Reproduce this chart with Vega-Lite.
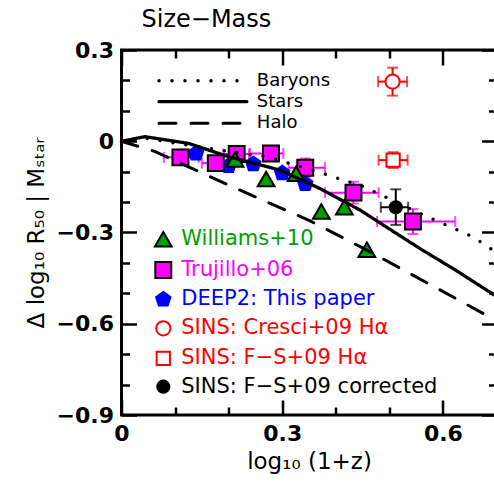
{
  "$schema": "https://vega.github.io/schema/vega-lite/v6.json",
  "width": 375,
  "height": 365,
  "autosize": {"type": "none"},
  "padding": {"left": 121.5, "top": 50, "right": 0, "bottom": 74},
  "background": "white",
  "title": {"text": "Size\u2212Mass", "anchor": "start", "frame": "group", "dx": 20, "offset": 7, "font": "DejaVu Sans", "fontSize": 24, "fontWeight": "normal", "color": "black"},
  "config": {
    "view": {"stroke": "black", "strokeWidth": 3},
    "axis": {"domain": false, "grid": false, "tickColor": "black", "tickWidth": 2.5, "labelFont": "DejaVu Sans", "labelFontSize": 22, "labelFontWeight": "bold", "labelColor": "black", "titleFont": "DejaVu Sans", "titleFontSize": 23, "titleFontWeight": "normal", "titleColor": "black", "labelFlush": false, "labelOverlap": false}
  },
  "datasets": {
    "obs": [
      {"series": "DEEP2: This paper", "x": 0.139, "y": -0.040},
      {"series": "DEEP2: This paper", "x": 0.200, "y": -0.081},
      {"series": "DEEP2: This paper", "x": 0.246, "y": -0.075},
      {"series": "DEEP2: This paper", "x": 0.300, "y": -0.105},
      {"series": "DEEP2: This paper", "x": 0.343, "y": -0.140},
      {"series": "Trujillo+06", "x": 0.110, "y": -0.053, "xlo": 0.079, "xhi": 0.144, "ylo": -0.078, "yhi": -0.028},
      {"series": "Trujillo+06", "x": 0.176, "y": -0.072, "xlo": 0.150, "xhi": 0.203, "ylo": -0.092, "yhi": -0.052},
      {"series": "Trujillo+06", "x": 0.215, "y": -0.042, "xlo": 0.190, "xhi": 0.238, "ylo": -0.062, "yhi": -0.022},
      {"series": "Trujillo+06", "x": 0.279, "y": -0.040, "xlo": 0.240, "xhi": 0.302, "ylo": -0.060, "yhi": -0.020},
      {"series": "Trujillo+06", "x": 0.343, "y": -0.087, "xlo": 0.312, "xhi": 0.380, "ylo": -0.117, "yhi": -0.057},
      {"series": "Trujillo+06", "x": 0.433, "y": -0.169, "xlo": 0.380, "xhi": 0.480, "ylo": -0.205, "yhi": -0.133},
      {"series": "Trujillo+06", "x": 0.544, "y": -0.264, "xlo": 0.477, "xhi": 0.623, "ylo": -0.305, "yhi": -0.223},
      {"series": "Williams+10", "x": 0.212, "y": -0.060},
      {"series": "Williams+10", "x": 0.270, "y": -0.124},
      {"series": "Williams+10", "x": 0.326, "y": -0.107},
      {"series": "Williams+10", "x": 0.373, "y": -0.231},
      {"series": "Williams+10", "x": 0.416, "y": -0.217},
      {"series": "Williams+10", "x": 0.458, "y": -0.357},
      {"series": "SINS: Cresci+09 H\u03b1", "x": 0.506, "y": 0.196, "xlo": 0.479, "xhi": 0.533, "ylo": 0.150, "yhi": 0.242},
      {"series": "SINS: F\u2212S+09 H\u03b1", "x": 0.507, "y": -0.062, "xlo": 0.480, "xhi": 0.534, "ylo": -0.088, "yhi": -0.036},
      {"series": "SINS: F\u2212S+09 corrected", "x": 0.512, "y": -0.217, "xlo": 0.484, "xhi": 0.535, "ylo": -0.275, "yhi": -0.158}
    ],
    "models": [
      {"model": "Baryons", "x": 0.0, "y": 0.0},
      {"model": "Baryons", "x": 0.044, "y": 0.010},
      {"model": "Baryons", "x": 0.122, "y": -0.012},
      {"model": "Baryons", "x": 0.184, "y": -0.029},
      {"model": "Baryons", "x": 0.271, "y": -0.051},
      {"model": "Baryons", "x": 0.346, "y": -0.089},
      {"model": "Baryons", "x": 0.451, "y": -0.149},
      {"model": "Baryons", "x": 0.557, "y": -0.237},
      {"model": "Baryons", "x": 0.619, "y": -0.286},
      {"model": "Baryons", "x": 0.656, "y": -0.314},
      {"model": "Baryons", "x": 0.7, "y": -0.366},
      {"model": "Stars", "x": 0.0, "y": 0.0},
      {"model": "Stars", "x": 0.044, "y": 0.015},
      {"model": "Stars", "x": 0.125, "y": -0.007},
      {"model": "Stars", "x": 0.2, "y": -0.051},
      {"model": "Stars", "x": 0.296, "y": -0.095},
      {"model": "Stars", "x": 0.37, "y": -0.155},
      {"model": "Stars", "x": 0.445, "y": -0.226},
      {"model": "Stars", "x": 0.513, "y": -0.303},
      {"model": "Stars", "x": 0.561, "y": -0.357},
      {"model": "Stars", "x": 0.623, "y": -0.423},
      {"model": "Stars", "x": 0.7, "y": -0.51},
      {"model": "Halo", "x": 0.0, "y": 0.0},
      {"model": "Halo", "x": 0.063, "y": -0.034},
      {"model": "Halo", "x": 0.206, "y": -0.149},
      {"model": "Halo", "x": 0.35, "y": -0.26},
      {"model": "Halo", "x": 0.457, "y": -0.357},
      {"model": "Halo", "x": 0.575, "y": -0.47},
      {"model": "Halo", "x": 0.7, "y": -0.59}
    ],
    "lineKey": [
      {"model": "Baryons", "x0": 0.070, "x1": 0.234, "y": 0.199},
      {"model": "Stars", "x0": 0.070, "x1": 0.234, "y": 0.130},
      {"model": "Halo", "x0": 0.070, "x1": 0.234, "y": 0.059}
    ],
    "symKey": [
      {"series": "Williams+10", "x": 0.078, "y": -0.322},
      {"series": "Trujillo+06", "x": 0.078, "y": -0.423},
      {"series": "DEEP2: This paper", "x": 0.078, "y": -0.520},
      {"series": "SINS: Cresci+09 H\u03b1", "x": 0.078, "y": -0.615},
      {"series": "SINS: F\u2212S+09 H\u03b1", "x": 0.078, "y": -0.714},
      {"series": "SINS: F\u2212S+09 corrected", "x": 0.078, "y": -0.807}
    ]
  },
  "resolve": {"axis": {"x": "independent", "y": "independent"}},
  "layer": [
    {
      "data": {"name": "obs"},
      "transform": [{"filter": "isValid(datum.xlo)"}],
      "mark": {"type": "rule", "strokeWidth": 2},
      "encoding": {
        "x": {"field": "xlo", "type": "quantitative", "scale": {"domain": [0, 0.7], "nice": false, "zero": false},
              "axis": {"orient": "bottom", "values": [0, 0.3, 0.6], "tickSize": -15, "labelPadding": 23, "labelExpr": "datum.value == 0 ? '0' : format(datum.value, '.1f')", "title": "log\u2081\u2080 (1+z)", "titlePadding": 6}},
        "x2": {"field": "xhi"},
        "y": {"field": "y", "type": "quantitative", "scale": {"domain": [-0.9, 0.3], "nice": false, "zero": false},
              "axis": {"orient": "left", "values": [0.3, 0, -0.3, -0.6, -0.9], "tickSize": -15, "labelPadding": 23, "labelExpr": "datum.value == 0 ? '0' : format(datum.value, '.1f')", "title": "\u0394 log\u2081\u2080 R\u2085\u2080 | M\u209b\u209c\u2090\u1d63", "titlePadding": 8}},
        "color": {"field": "series", "type": "nominal", "legend": null,
                  "scale": {"domain": ["Williams+10", "Trujillo+06", "DEEP2: This paper", "SINS: Cresci+09 H\u03b1", "SINS: F\u2212S+09 H\u03b1", "SINS: F\u2212S+09 corrected"], "range": ["#00a000", "#ff00ff", "#0000ff", "#ff0000", "#ff0000", "#000000"]}}
      }
    },
    {
      "data": {"name": "obs"},
      "transform": [{"filter": "isValid(datum.ylo)"}],
      "mark": {"type": "rule", "strokeWidth": 2},
      "encoding": {
        "x": {"field": "x", "type": "quantitative", "scale": {"domain": [0, 0.7], "nice": false, "zero": false},
              "axis": {"orient": "bottom", "values": [0.1, 0.2, 0.4, 0.5], "tickSize": -8, "labels": false, "title": null}},
        "y": {"field": "ylo", "type": "quantitative", "scale": {"domain": [-0.9, 0.3], "nice": false, "zero": false},
              "axis": {"orient": "left", "values": [0.2, 0.1, -0.1, -0.2, -0.4, -0.5, -0.7, -0.8], "tickSize": -8, "labels": false, "title": null}},
        "y2": {"field": "yhi"},
        "color": {"field": "series", "type": "nominal", "legend": null}
      }
    },
    {
      "data": {"name": "obs"},
      "transform": [{"filter": "isValid(datum.xlo)"}, {"fold": ["xlo", "xhi"], "as": ["end", "xv"]}],
      "mark": {"type": "tick", "orient": "vertical", "size": 11, "thickness": 2},
      "encoding": {
        "x": {"field": "xv", "type": "quantitative", "scale": {"domain": [0, 0.7], "nice": false, "zero": false},
              "axis": {"orient": "top", "values": [0, 0.3, 0.6], "tickSize": -15, "labels": false, "title": null}},
        "y": {"field": "y", "type": "quantitative", "scale": {"domain": [-0.9, 0.3], "nice": false, "zero": false},
              "axis": {"orient": "right", "values": [0.3, 0, -0.3, -0.6, -0.9], "tickSize": -15, "labels": false, "title": null}},
        "color": {"field": "series", "type": "nominal", "legend": null}
      }
    },
    {
      "data": {"name": "obs"},
      "transform": [{"filter": "isValid(datum.ylo)"}, {"fold": ["ylo", "yhi"], "as": ["end", "yv"]}],
      "mark": {"type": "tick", "orient": "horizontal", "size": 11, "thickness": 2},
      "encoding": {
        "x": {"field": "x", "type": "quantitative", "scale": {"domain": [0, 0.7], "nice": false, "zero": false},
              "axis": {"orient": "top", "values": [0.1, 0.2, 0.4, 0.5], "tickSize": -8, "labels": false, "title": null}},
        "y": {"field": "yv", "type": "quantitative", "scale": {"domain": [-0.9, 0.3], "nice": false, "zero": false},
              "axis": {"orient": "right", "values": [0.2, 0.1, -0.1, -0.2, -0.4, -0.5, -0.7, -0.8], "tickSize": -8, "labels": false, "title": null}},
        "color": {"field": "series", "type": "nominal", "legend": null}
      }
    },
    {
      "data": {"name": "obs"},
      "mark": {"type": "point", "opacity": 1, "fillOpacity": 1, "strokeWidth": 2},
      "encoding": {
        "x": {"field": "x", "type": "quantitative", "scale": {"domain": [0, 0.7], "nice": false, "zero": false}, "axis": null},
        "y": {"field": "y", "type": "quantitative", "scale": {"domain": [-0.9, 0.3], "nice": false, "zero": false}, "axis": null},
        "shape": {"field": "series", "type": "nominal", "legend": null,
                  "scale": {"domain": ["Williams+10", "Trujillo+06", "DEEP2: This paper", "SINS: Cresci+09 H\u03b1", "SINS: F\u2212S+09 H\u03b1", "SINS: F\u2212S+09 corrected"], "range": ["triangle-up", "square", "M0,-1L0.951,-0.309L0.588,0.809L-0.588,0.809L-0.951,-0.309Z", "circle", "square", "circle"]}},
        "fill": {"field": "series", "type": "nominal", "legend": null,
                 "scale": {"domain": ["Williams+10", "Trujillo+06", "DEEP2: This paper", "SINS: Cresci+09 H\u03b1", "SINS: F\u2212S+09 H\u03b1", "SINS: F\u2212S+09 corrected"], "range": ["#00a000", "#ff00ff", "#0000ff", "#ffffff", "#ffffff", "#000000"]}},
        "stroke": {"field": "series", "type": "nominal", "legend": null,
                   "scale": {"domain": ["Williams+10", "Trujillo+06", "DEEP2: This paper", "SINS: Cresci+09 H\u03b1", "SINS: F\u2212S+09 H\u03b1", "SINS: F\u2212S+09 corrected"], "range": ["#000000", "#000000", "#0000ff", "#ff0000", "#ff0000", "#000000"]}},
        "size": {"field": "series", "type": "ordinal", "legend": null,
                 "scale": {"domain": ["Williams+10", "Trujillo+06", "DEEP2: This paper", "SINS: Cresci+09 H\u03b1", "SINS: F\u2212S+09 H\u03b1", "SINS: F\u2212S+09 corrected"], "range": [280, 150, 500, 170, 110, 210]}}
      }
    },
    {
      "data": {"name": "models"},
      "mark": {"type": "line", "color": "black", "strokeCap": "round"},
      "encoding": {
        "x": {"field": "x", "type": "quantitative", "scale": {"domain": [0, 0.7], "nice": false, "zero": false}, "axis": null},
        "y": {"field": "y", "type": "quantitative", "scale": {"domain": [-0.9, 0.3], "nice": false, "zero": false}, "axis": null},
        "strokeDash": {"field": "model", "type": "nominal", "legend": null,
                       "scale": {"domain": ["Baryons", "Stars", "Halo"], "range": [[0, 13], [1, 0], [17, 15]]}},
        "strokeWidth": {"field": "model", "type": "ordinal", "legend": null,
                        "scale": {"domain": ["Baryons", "Stars", "Halo"], "range": [3.5, 3, 2.5]}}
      }
    },
    {
      "data": {"name": "lineKey"},
      "mark": {"type": "rule", "color": "black", "strokeCap": "round"},
      "encoding": {
        "x": {"field": "x0", "type": "quantitative", "scale": {"domain": [0, 0.7], "nice": false, "zero": false}, "axis": null},
        "x2": {"field": "x1"},
        "y": {"field": "y", "type": "quantitative", "scale": {"domain": [-0.9, 0.3], "nice": false, "zero": false}, "axis": null},
        "strokeDash": {"field": "model", "type": "nominal", "legend": null},
        "strokeWidth": {"field": "model", "type": "ordinal", "legend": null}
      }
    },
    {
      "data": {"name": "lineKey"},
      "mark": {"type": "text", "align": "left", "baseline": "middle", "dx": 10, "font": "DejaVu Sans", "fontSize": 18, "color": "black"},
      "encoding": {
        "x": {"field": "x1", "type": "quantitative", "scale": {"domain": [0, 0.7], "nice": false, "zero": false}, "axis": null},
        "y": {"field": "y", "type": "quantitative", "scale": {"domain": [-0.9, 0.3], "nice": false, "zero": false}, "axis": null},
        "text": {"field": "model"}
      }
    },
    {
      "data": {"name": "symKey"},
      "mark": {"type": "point", "opacity": 1, "fillOpacity": 1, "strokeWidth": 2},
      "encoding": {
        "x": {"field": "x", "type": "quantitative", "scale": {"domain": [0, 0.7], "nice": false, "zero": false}, "axis": null},
        "y": {"field": "y", "type": "quantitative", "scale": {"domain": [-0.9, 0.3], "nice": false, "zero": false}, "axis": null},
        "shape": {"field": "series", "type": "nominal", "legend": null},
        "fill": {"field": "series", "type": "nominal", "legend": null},
        "stroke": {"field": "series", "type": "nominal", "legend": null},
        "size": {"field": "series", "type": "ordinal", "legend": null}
      }
    },
    {
      "data": {"name": "symKey"},
      "mark": {"type": "text", "align": "left", "baseline": "middle", "dx": 18, "font": "DejaVu Sans", "fontSize": 21},
      "encoding": {
        "x": {"field": "x", "type": "quantitative", "scale": {"domain": [0, 0.7], "nice": false, "zero": false}, "axis": null},
        "y": {"field": "y", "type": "quantitative", "scale": {"domain": [-0.9, 0.3], "nice": false, "zero": false}, "axis": null},
        "text": {"field": "series"},
        "color": {"field": "series", "type": "nominal", "legend": null}
      }
    }
  ]
}
